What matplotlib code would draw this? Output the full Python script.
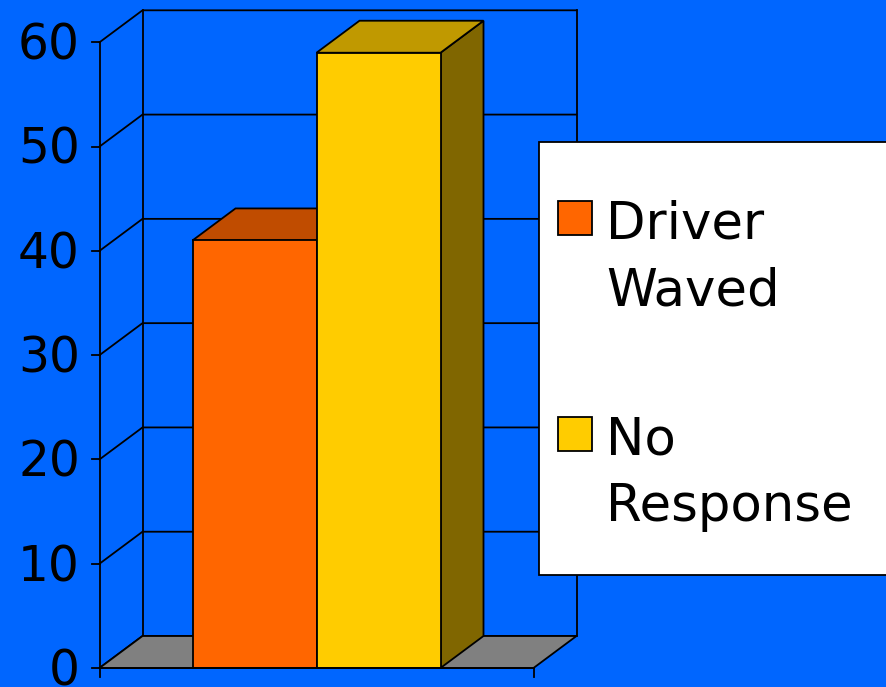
import matplotlib.pyplot as plt
from matplotlib.patches import Polygon, Rectangle
from matplotlib.transforms import offset_copy

# data
series = ['Driver\nWaved', 'No\nResponse']
values = [41, 59]
y_ticks = [0, 10, 20, 30, 40, 50, 60]

front_colors = ['#FF6600', '#FFCC00']
top_colors = ['#C04C00', '#C09900']
side_colors = ['#802600', '#806600']
bg = '#0066FF'
floor_color = '#808080'

W, H = 886, 687
fig = plt.figure(figsize=(W / 100, H / 100), dpi=100, facecolor=bg)
ax = fig.add_axes([0, 0, 1, 1])
ax.set_facecolor(bg)
ax.axis('off')

# plot area in pixels (measured from left / from top)
x_left, x_right = 99.5, 533.5
y_zero, y_top = 668, 42.3
ymax = 60
px_x = x_right - x_left            # pixels per category unit
px_y = (y_zero - y_top) / ymax     # pixels per value unit
ax.set_xlim(-x_left / px_x, (W - x_left) / px_x)
ax.set_ylim(-(H - y_zero) / px_y, y_zero / px_y)

# 3d depth offset
dx = 43 / px_x
dy = 32 / px_y
lw = 1.3
k = 'black'

# back wall + left wall gridlines
for t in y_ticks:
    ax.plot([0, dx, 1 + dx], [t, t + dy, t + dy], color=k, lw=lw, zorder=1)
ax.plot([dx, dx], [dy, ymax + dy], color=k, lw=lw, zorder=1)
ax.plot([1 + dx, 1 + dx], [dy, ymax + dy], color=k, lw=lw, zorder=1)

# floor
ax.add_patch(Polygon([(0, 0), (1, 0), (1 + dx, dy), (dx, dy)], closed=True,
                     facecolor=floor_color, edgecolor=k, lw=lw, zorder=2))

# bars (gap width 150%)
n = len(values)
bw = 1 / (n + 1.5)
x0 = 0.75 * bw
for i, v in enumerate(values):
    xa = x0 + i * bw
    xb = xa + bw
    ax.add_patch(Polygon([(xb, 0), (xb + dx, dy), (xb + dx, v + dy), (xb, v)],
                         facecolor=side_colors[i], edgecolor=k, lw=lw, zorder=3 + i))
    ax.add_patch(Polygon([(xa, v), (xa + dx, v + dy), (xb + dx, v + dy), (xb, v)],
                         facecolor=top_colors[i], edgecolor=k, lw=lw, zorder=3 + i))
    ax.add_patch(Rectangle((xa, 0), bw, v, facecolor=front_colors[i],
                           edgecolor=k, lw=lw, zorder=3 + i))

# axes lines
tick_len = 8 / px_x
ax.plot([0, 0], [-9 / px_y, ymax], color=k, lw=lw, zorder=6)
ax.plot([0, 1], [0, 0], color=k, lw=lw, zorder=6)
ax.plot([1, 1], [-9 / px_y, 0], color=k, lw=lw, zorder=6)
for t in y_ticks:
    ax.plot([-tick_len, 0], [t, t], color=k, lw=lw, zorder=6)

label_tr = offset_copy(ax.transData, fig=fig, x=-19.5, y=-17.4, units='dots')
for t in y_ticks:
    ax.text(0, t, str(t), transform=label_tr, ha='right', va='baseline',
            fontsize=35, color=k, zorder=7)

# legend (drawn by hand, clipped by the right edge like the original)
def fx(px):
    return px / W

def fy(py):
    return 1 - py / H

fig.add_artist(Rectangle((fx(539.3), fy(575)), fx(W + 20 - 539.3), (575 - 141.7) / H,
                         transform=fig.transFigure, facecolor='white',
                         edgecolor=k, lw=lw, zorder=10))
entry_tops = [200.7, 416.7]
line_gap = 66.7
for i, name in enumerate(series):
    top = entry_tops[i]
    fig.add_artist(Rectangle((fx(557.5), fy(top + 34)), 34 / W, 34 / H,
                             transform=fig.transFigure, facecolor=front_colors[i],
                             edgecolor=k, lw=lw, zorder=11))
    for j, line in enumerate(name.split('\n')):
        fig.text(fx(606), fy(top + 37.6 + j * line_gap), line, ha='left',
                 va='baseline', fontsize=37, color=k, zorder=12)

fig.savefig('out.png', dpi=100, facecolor=bg)
